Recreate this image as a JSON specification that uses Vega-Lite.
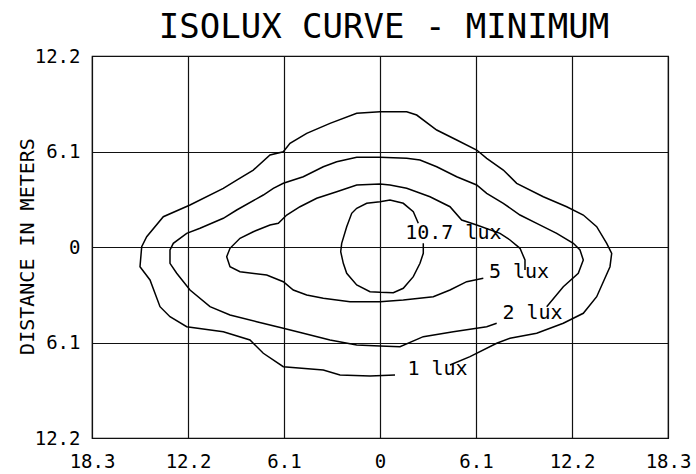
{
  "$schema": "https://vega.github.io/schema/vega-lite/v6.json",
  "width": 576,
  "height": 382,
  "autosize": "none",
  "padding": {"left": 92, "top": 56, "right": 28, "bottom": 36},
  "background": "white",
  "title": {
    "text": "ISOLUX CURVE - MINIMUM",
    "font": "DejaVu Sans Mono",
    "fontSize": 34,
    "fontWeight": "normal",
    "color": "black",
    "anchor": "middle",
    "baseline": "bottom",
    "offset": -32,
    "dx": 4
  },
  "config": {
    "view": {"stroke": "black", "strokeWidth": 1.2},
    "axis": {
      "grid": true,
      "gridColor": "#111111",
      "gridOpacity": 1,
      "gridWidth": 1.2,
      "domain": false,
      "ticks": false,
      "tickSize": 0,
      "labelFont": "DejaVu Sans Mono",
      "labelFontSize": 19,
      "labelColor": "black",
      "labelFlush": false,
      "labelOverlap": false,
      "titleFont": "DejaVu Sans Mono",
      "titleFontWeight": "normal",
      "titleColor": "black"
    }
  },
  "datasets": {
    "curves": [
      {"c": "1", "i": 0, "x": 4.448, "y": -7.535},
      {"c": "1", "i": 1, "x": 5.719, "y": -7.005},
      {"c": "1", "i": 2, "x": 7.415, "y": -6.149},
      {"c": "1", "i": 3, "x": 8.26, "y": -5.83},
      {"c": "1", "i": 4, "x": 9.957, "y": -5.511},
      {"c": "1", "i": 5, "x": 11.647, "y": -4.872},
      {"c": "1", "i": 6, "x": 12.918, "y": -4.234},
      {"c": "1", "i": 7, "x": 13.769, "y": -3.174},
      {"c": "1", "i": 8, "x": 14.614, "y": -1.258},
      {"c": "1", "i": 9, "x": 14.722, "y": -0.402},
      {"c": "1", "i": 10, "x": 14.405, "y": 0.236},
      {"c": "1", "i": 11, "x": 13.769, "y": 1.296},
      {"c": "1", "i": 12, "x": 12.918, "y": 2.043},
      {"c": "1", "i": 13, "x": 11.863, "y": 2.573},
      {"c": "1", "i": 14, "x": 10.376, "y": 3.212},
      {"c": "1", "i": 15, "x": 8.686, "y": 4.068},
      {"c": "1", "i": 16, "x": 7.835, "y": 4.917},
      {"c": "1", "i": 17, "x": 6.78, "y": 5.664},
      {"c": "1", "i": 18, "x": 6.144, "y": 6.194},
      {"c": "1", "i": 19, "x": 4.874, "y": 6.833},
      {"c": "1", "i": 20, "x": 3.603, "y": 7.471},
      {"c": "1", "i": 21, "x": 2.332, "y": 8.429},
      {"c": "1", "i": 22, "x": 1.697, "y": 8.64},
      {"c": "1", "i": 23, "x": 0, "y": 8.64},
      {"c": "1", "i": 24, "x": -1.48, "y": 8.538},
      {"c": "1", "i": 25, "x": -3.177, "y": 7.899},
      {"c": "1", "i": 26, "x": -4.658, "y": 7.261},
      {"c": "1", "i": 27, "x": -5.719, "y": 6.622},
      {"c": "1", "i": 28, "x": -6.144, "y": 6.086},
      {"c": "1", "i": 29, "x": -6.989, "y": 5.875},
      {"c": "1", "i": 30, "x": -8.051, "y": 4.917},
      {"c": "1", "i": 31, "x": -9.105, "y": 4.278},
      {"c": "1", "i": 32, "x": -9.957, "y": 3.748},
      {"c": "1", "i": 33, "x": -12.073, "y": 2.682},
      {"c": "1", "i": 34, "x": -13.769, "y": 1.935},
      {"c": "1", "i": 35, "x": -14.824, "y": 0.658},
      {"c": "1", "i": 36, "x": -15.142, "y": 0.019},
      {"c": "1", "i": 37, "x": -15.25, "y": -1.258},
      {"c": "1", "i": 38, "x": -14.614, "y": -2.107},
      {"c": "1", "i": 39, "x": -13.979, "y": -3.812},
      {"c": "1", "i": 40, "x": -13.344, "y": -4.451},
      {"c": "1", "i": 41, "x": -12.283, "y": -5.089},
      {"c": "1", "i": 42, "x": -9.957, "y": -5.409},
      {"c": "1", "i": 43, "x": -8.26, "y": -5.939},
      {"c": "1", "i": 44, "x": -7.415, "y": -6.788},
      {"c": "1", "i": 45, "x": -6.144, "y": -7.644},
      {"c": "1", "i": 46, "x": -3.603, "y": -7.854},
      {"c": "1", "i": 47, "x": -2.542, "y": -8.174},
      {"c": "1", "i": 48, "x": -0.635, "y": -8.238},
      {"c": "1", "i": 49, "x": 0.953, "y": -8.174},

      {"c": "2", "i": 0, "x": 10.592, "y": -3.812},
      {"c": "2", "i": 1, "x": 11.647, "y": -2.535},
      {"c": "2", "i": 2, "x": 12.6, "y": -1.679},
      {"c": "2", "i": 3, "x": 12.918, "y": -0.83},
      {"c": "2", "i": 4, "x": 12.708, "y": -0.192},
      {"c": "2", "i": 5, "x": 12.283, "y": 0.236},
      {"c": "2", "i": 6, "x": 11.228, "y": 0.875},
      {"c": "2", "i": 7, "x": 9.957, "y": 1.513},
      {"c": "2", "i": 8, "x": 8.896, "y": 2.043},
      {"c": "2", "i": 9, "x": 7.835, "y": 2.791},
      {"c": "2", "i": 10, "x": 6.78, "y": 3.429},
      {"c": "2", "i": 11, "x": 6.144, "y": 3.959},
      {"c": "2", "i": 12, "x": 4.874, "y": 4.489},
      {"c": "2", "i": 13, "x": 3.603, "y": 5.128},
      {"c": "2", "i": 14, "x": 2.542, "y": 5.556},
      {"c": "2", "i": 15, "x": 1.697, "y": 5.664},
      {"c": "2", "i": 16, "x": 0, "y": 5.728},
      {"c": "2", "i": 17, "x": -1.48, "y": 5.728},
      {"c": "2", "i": 18, "x": -2.751, "y": 5.447},
      {"c": "2", "i": 19, "x": -3.603, "y": 5.128},
      {"c": "2", "i": 20, "x": -4.874, "y": 4.489},
      {"c": "2", "i": 21, "x": -6.144, "y": 4.068},
      {"c": "2", "i": 22, "x": -6.78, "y": 3.748},
      {"c": "2", "i": 23, "x": -7.415, "y": 3.321},
      {"c": "2", "i": 24, "x": -9.105, "y": 2.363},
      {"c": "2", "i": 25, "x": -9.957, "y": 1.833},
      {"c": "2", "i": 26, "x": -11.437, "y": 1.194},
      {"c": "2", "i": 27, "x": -12.283, "y": 0.875},
      {"c": "2", "i": 28, "x": -13.134, "y": 0.236},
      {"c": "2", "i": 29, "x": -13.344, "y": -0.192},
      {"c": "2", "i": 30, "x": -13.344, "y": -1.041},
      {"c": "2", "i": 31, "x": -12.918, "y": -1.679},
      {"c": "2", "i": 32, "x": -12.073, "y": -2.746},
      {"c": "2", "i": 33, "x": -10.802, "y": -3.812},
      {"c": "2", "i": 34, "x": -9.531, "y": -4.342},
      {"c": "2", "i": 35, "x": -7.835, "y": -4.77},
      {"c": "2", "i": 36, "x": -6.144, "y": -5.192},
      {"c": "2", "i": 37, "x": -4.874, "y": -5.511},
      {"c": "2", "i": 38, "x": -3.177, "y": -5.939},
      {"c": "2", "i": 39, "x": -1.48, "y": -6.258},
      {"c": "2", "i": 40, "x": 0, "y": -6.322},
      {"c": "2", "i": 41, "x": 1.271, "y": -6.367},
      {"c": "2", "i": 42, "x": 2.751, "y": -5.728},
      {"c": "2", "i": 43, "x": 4.658, "y": -5.409},
      {"c": "2", "i": 44, "x": 6.78, "y": -5.089},
      {"c": "2", "i": 45, "x": 7.415, "y": -4.872},

      {"c": "5", "i": 0, "x": 9.213, "y": -1.469},
      {"c": "5", "i": 1, "x": 9.213, "y": -0.83},
      {"c": "5", "i": 2, "x": 8.896, "y": -0.083},
      {"c": "5", "i": 3, "x": 8.26, "y": 0.447},
      {"c": "5", "i": 4, "x": 7.625, "y": 0.875},
      {"c": "5", "i": 5, "x": 6.144, "y": 1.405},
      {"c": "5", "i": 6, "x": 5.191, "y": 1.724},
      {"c": "5", "i": 7, "x": 4.448, "y": 2.573},
      {"c": "5", "i": 8, "x": 3.177, "y": 3.212},
      {"c": "5", "i": 9, "x": 1.697, "y": 3.748},
      {"c": "5", "i": 10, "x": 0.635, "y": 3.959},
      {"c": "5", "i": 11, "x": 0, "y": 4.023},
      {"c": "5", "i": 12, "x": -1.48, "y": 3.959},
      {"c": "5", "i": 13, "x": -2.751, "y": 3.531},
      {"c": "5", "i": 14, "x": -4.022, "y": 3.11},
      {"c": "5", "i": 15, "x": -5.083, "y": 2.573},
      {"c": "5", "i": 16, "x": -5.928, "y": 2.043},
      {"c": "5", "i": 17, "x": -6.462, "y": 1.513},
      {"c": "5", "i": 18, "x": -6.989, "y": 1.405},
      {"c": "5", "i": 19, "x": -8.051, "y": 0.977},
      {"c": "5", "i": 20, "x": -8.896, "y": 0.556},
      {"c": "5", "i": 21, "x": -9.531, "y": -0.083},
      {"c": "5", "i": 22, "x": -9.741, "y": -0.619},
      {"c": "5", "i": 23, "x": -9.531, "y": -1.258},
      {"c": "5", "i": 24, "x": -8.896, "y": -1.577},
      {"c": "5", "i": 25, "x": -7.199, "y": -1.788},
      {"c": "5", "i": 26, "x": -6.144, "y": -2.216},
      {"c": "5", "i": 27, "x": -5.509, "y": -2.746},
      {"c": "5", "i": 28, "x": -4.658, "y": -3.065},
      {"c": "5", "i": 29, "x": -3.603, "y": -3.276},
      {"c": "5", "i": 30, "x": -1.906, "y": -3.493},
      {"c": "5", "i": 31, "x": 0, "y": -3.493},
      {"c": "5", "i": 32, "x": 1.48, "y": -3.384},
      {"c": "5", "i": 33, "x": 3.387, "y": -3.174},
      {"c": "5", "i": 34, "x": 4.448, "y": -2.746},
      {"c": "5", "i": 35, "x": 5.509, "y": -2.216},
      {"c": "5", "i": 36, "x": 6.564, "y": -1.999},

      {"c": "10.7", "i": 0, "x": 2.434, "y": 1.513},
      {"c": "10.7", "i": 1, "x": 2.116, "y": 2.254},
      {"c": "10.7", "i": 2, "x": 1.48, "y": 2.791},
      {"c": "10.7", "i": 3, "x": 0.635, "y": 3.001},
      {"c": "10.7", "i": 4, "x": 0, "y": 2.893},
      {"c": "10.7", "i": 5, "x": -0.845, "y": 2.791},
      {"c": "10.7", "i": 6, "x": -1.48, "y": 2.471},
      {"c": "10.7", "i": 7, "x": -1.798, "y": 2.152},
      {"c": "10.7", "i": 8, "x": -2.116, "y": 1.296},
      {"c": "10.7", "i": 9, "x": -2.434, "y": 0.236},
      {"c": "10.7", "i": 10, "x": -2.497, "y": -0.3},
      {"c": "10.7", "i": 11, "x": -2.332, "y": -1.041},
      {"c": "10.7", "i": 12, "x": -2.116, "y": -1.679},
      {"c": "10.7", "i": 13, "x": -1.48, "y": -2.427},
      {"c": "10.7", "i": 14, "x": -0.635, "y": -2.854},
      {"c": "10.7", "i": 15, "x": 0, "y": -2.893},
      {"c": "10.7", "i": 16, "x": 0.845, "y": -2.918},
      {"c": "10.7", "i": 17, "x": 1.48, "y": -2.637},
      {"c": "10.7", "i": 18, "x": 2.116, "y": -1.897},
      {"c": "10.7", "i": 19, "x": 2.542, "y": -1.041},
      {"c": "10.7", "i": 20, "x": 2.751, "y": -0.402},
      {"c": "10.7", "i": 21, "x": 2.751, "y": 0.236}
    ],
    "labels": [
      {"label": "10.7 lux", "x": 4.658, "y": 0.87},
      {"label": "5 lux", "x": 8.832, "y": -1.62},
      {"label": "2 lux", "x": 9.69, "y": -4.2},
      {"label": "1 lux", "x": 3.654, "y": -7.8}
    ]
  },
  "layer": [
    {
      "data": {"name": "curves"},
      "mark": {"type": "line", "color": "black", "strokeWidth": 1.5, "interpolate": "linear"},
      "encoding": {
        "x": {
          "field": "x",
          "type": "quantitative",
          "scale": {"domain": [-18.3, 18.3], "nice": false, "zero": false},
          "axis": {
            "values": [-18.3, -12.2, -6.1, 0, 6.1, 12.2, 18.3],
            "labelExpr": "format(abs(datum.value), '.1~f')",
            "labelPadding": 14,
            "title": null
          }
        },
        "y": {
          "field": "y",
          "type": "quantitative",
          "scale": {"domain": [-12.2, 12.2], "nice": false, "zero": false},
          "axis": {
            "values": [-12.2, -6.1, 0, 6.1, 12.2],
            "labelExpr": "format(abs(datum.value), '.1~f')",
            "labelPadding": 12,
            "title": "DISTANCE IN METERS",
            "titleFontSize": 20,
            "titleX": -65,
            "titleY": 190,
            "titleAngle": -90,
            "titleBaseline": "middle",
            "titleAlign": "center"
          }
        },
        "detail": {"field": "c"},
        "order": {"field": "i", "type": "quantitative"}
      }
    },
    {
      "data": {"name": "labels"},
      "mark": {"type": "text", "font": "DejaVu Sans Mono", "fontSize": 20, "color": "black", "align": "center", "baseline": "middle"},
      "encoding": {
        "x": {"field": "x", "type": "quantitative"},
        "y": {"field": "y", "type": "quantitative"},
        "text": {"field": "label"}
      }
    }
  ]
}
